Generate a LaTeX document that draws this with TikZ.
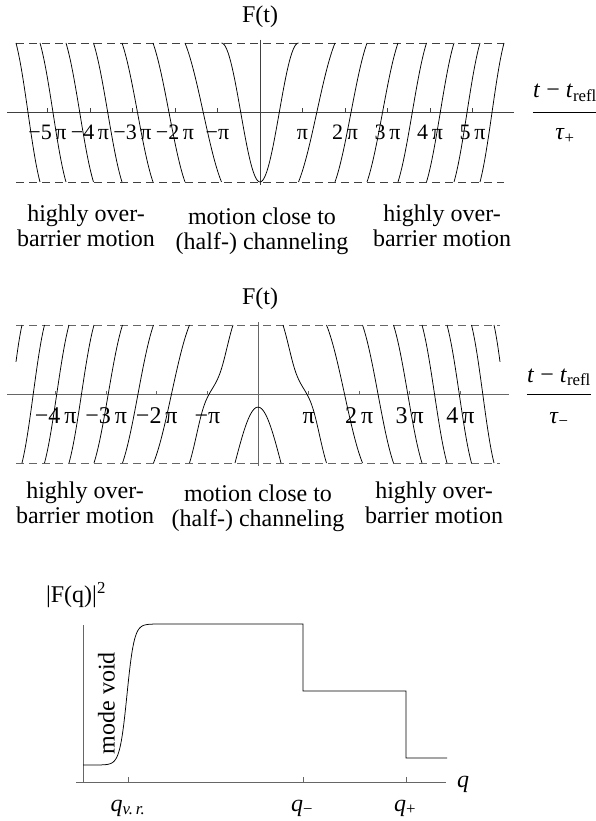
\documentclass[tikz,border=0pt]{standalone}
\usepackage{fontspec}
\setmainfont{Liberation Serif}
\begin{document}
\begin{tikzpicture}[x=1pt,y=-1pt,
    fcurve/.style={line width=0.75pt,black},
    axisln/.style={line width=0.9pt,black!60},
    planeln/.style={line width=0.9pt,black!60,dash pattern=on 8pt off 5pt},
    fracbar/.style={line width=1pt,black},
    txt/.style={font=\fontsize{24}{25}\selectfont,inner sep=0pt,align=center},
    ticklbl/.style={font=\fontsize{#1}{#1}\selectfont,inner sep=0pt,anchor=base}]
\useasboundingbox (0,0) rectangle (595,821);

% upper plot, tau_+
\begin{scope}[shift={(260,112.5)},yscale=-69.5]
  \draw[planeln,black!75] (-244,1) -- (244,1);
  \draw[planeln,black!75] (-244,-1) -- (244,-1);
  \draw[axisln,black!75] (-253,0) -- (254,0);
  \draw[axisln,black!75] (0,1.05) -- (0,-1.04);
  \foreach \k in {1,...,5} {
    \draw[axisln,black!75] (\k*42.5,0) -- (\k*42.5,0.06);
    \draw[axisln,black!75] (-\k*42.5,0) -- (-\k*42.5,0.06);
  }
  \foreach \side in {1,-1} {
  \begin{scope}[xscale=\side]
    \foreach \a/\b in {-244/-220,-220/-194,-194/-166.5,-166.5/-138,-138/-107,-107/-75,-75/-38.5}
      \draw[fcurve] plot[domain=0:1,samples=30,smooth] ({\a+(\b-\a)*\x},{0.35*cos(180*\x)+0.65*(1-2*\x)});
    \draw[fcurve] plot[domain=-38.5:0,samples=30,smooth] (\x,{-cos(180*\x/38.5)});
  \end{scope}}
\end{scope}
\foreach \k/\lab in {-5/{−5\,π},-4/{−4\,π},-3/{−3\,π},-2/{−2\,π},-1/{−π},1/{π},2/{2\,π},3/{3\,π},4/{4\,π},5/{5\,π}}
  \node[ticklbl=22] (ta\k) at ({260+\k*42.5},140) {\lab};
\node[txt] (ft1) at (260,16.5) {F(t)};
\node[txt,anchor=base] (num1) at (565,98) {\textit{t} − \textit{t}\textsubscript{refl}};
\node[txt,anchor=base] (den1) at (565,140) {\textit{τ}\textsubscript{+}};
\coordinate (bar1) at (565,112.5);
\draw[fracbar] (num1.west |- bar1) -- (num1.east |- bar1);
\node[txt,anchor=north] (ovl1) at (86,205) {highly over-\\barrier motion};
\node[txt,anchor=north] (chn1) at (262,208) {motion close to\\(half-) channeling};
\node[txt,anchor=north] (ovr1) at (442,205) {highly over-\\barrier motion};

% middle plot, tau_-
\begin{scope}[shift={(258,394)},yscale=-69]
  \draw[planeln] (-242,1) -- (242,1);
  \draw[planeln] (-242,-1) -- (242,-1);
  \draw[axisln] (-251,0) -- (251,0);
  \draw[axisln] (0,1.04) -- (0,-1.05);
  \foreach \k in {1,...,4} {
    \draw[axisln] (\k*50.6,0) -- (\k*50.6,0.05);
    \draw[axisln] (-\k*50.6,0) -- (-\k*50.6,0.05);
  }
  \foreach \side in {1,-1} {
  \begin{scope}[xscale=\side]
    \draw[fcurve] plot[domain=0.7:1,samples=12,smooth] ({-256+20*\x},{-0.35*cos(180*\x)-0.65*(1-2*\x)});
    \foreach \a/\b in {-236/-213.5,-213.5/-189,-189/-164,-164/-135.5,-135.5/-104.5,-104.5/-68.5}
      \draw[fcurve] plot[domain=0:1,samples=30,smooth] ({\a+(\b-\a)*\x},{-0.35*cos(180*\x)-0.65*(1-2*\x)});
    \draw[fcurve] plot[domain=0:1,samples=60,smooth]
      ({-68.5+43.5*(0.6*\x+0.4*(atan(12*(\x-0.53))-atan(-6.36))/(atan(5.64)-atan(-6.36)))},{-0.35*cos(180*\x)-0.65*(1-2*\x)});
    \draw[fcurve] plot[domain=-23:0,samples=30,smooth] (\x,{-1+0.81*cos(90*\x/23)});
  \end{scope}}
\end{scope}
\foreach \k/\lab in {-4/{−4\,π},-3/{−3\,π},-2/{−2\,π},-1/{−π},1/{π},2/{2\,π},3/{3\,π},4/{4\,π}}
  \node[ticklbl=24] (tb\k) at ({258+\k*50.6},423) {\lab};
\node[txt] (ft2) at (260,299) {F(t)};
\node[txt,anchor=base] (num2) at (559,382) {\textit{t} − \textit{t}\textsubscript{refl}};
\node[txt,anchor=base] (den2) at (559,423) {\textit{τ}\textsubscript{−}};
\coordinate (bar2) at (559,394);
\draw[fracbar] (num2.west |- bar2) -- (num2.east |- bar2);
\node[txt,anchor=north] (ovl2) at (85,482) {highly over-\\barrier motion};
\node[txt,anchor=north] (chn2) at (258,485) {motion close to\\(half-) channeling};
\node[txt,anchor=north] (ovr2) at (434,482) {highly over-\\barrier motion};

% lower plot, |F(q)|^2
\draw[axisln] (76,782) -- (446,782);
\draw[axisln] (83,625) -- (83,782);
\foreach \q in {128,303,406}
  \draw[axisln] (\q,782) -- (\q,777);
\draw[fcurve] (83,765) -- plot[domain=100:165,samples=80,smooth] (\x,{765-141/(1+exp(-(\x-127)/3.6))})
  -- (303,624) -- (303,691) -- (406,691) -- (406,758) -- (447,758);
\node[txt] (fq) at (76,595) {|F(q)|\textsuperscript{2}};
\node[txt,rotate=90] (void) at (106.5,703) {mode void};
\node[txt,anchor=base] (qvr) at (128,811) {\textit{q}\textsubscript{\textit{v.\,r.}}};
\node[txt,anchor=base] (qm) at (302,811) {\textit{q}\textsubscript{−}};
\node[txt,anchor=base] (qp) at (405,811) {\textit{q}\textsubscript{+}};
\node[txt,anchor=base] (qax) at (463,787) {\textit{q}};
\end{tikzpicture}
\end{document}
